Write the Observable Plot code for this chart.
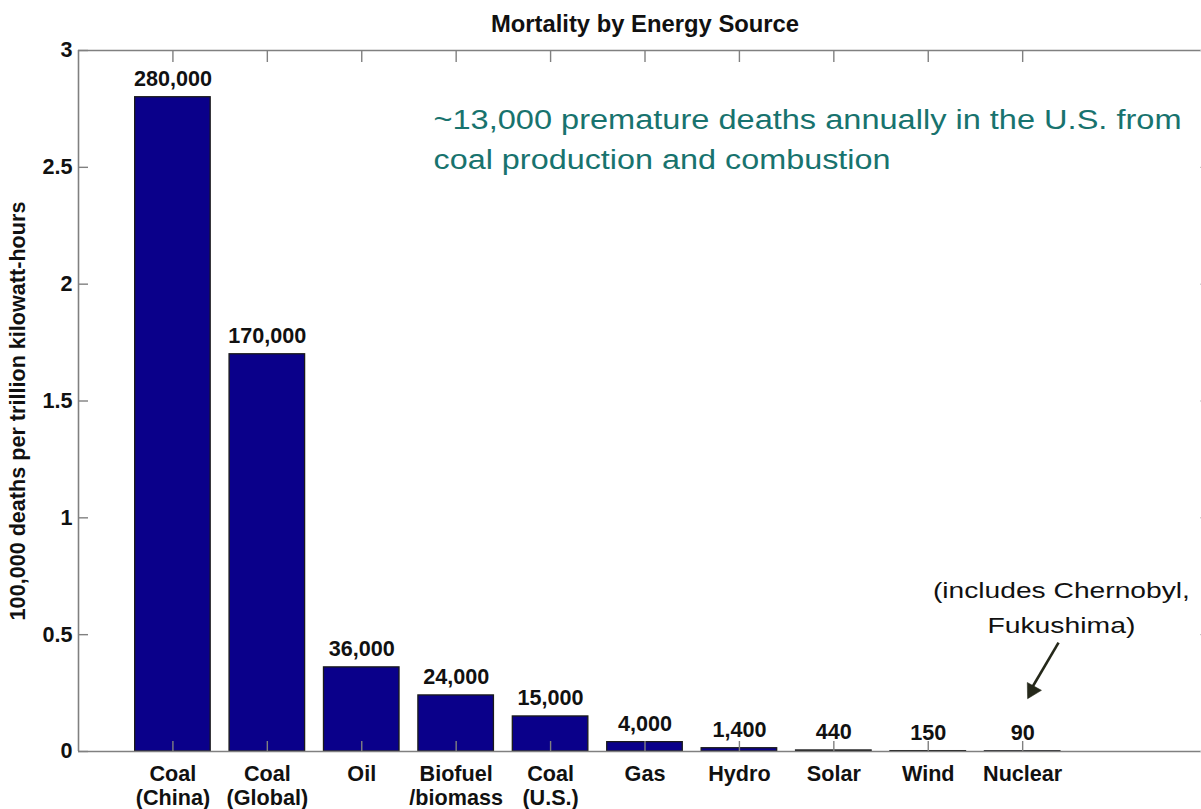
<!DOCTYPE html>
<html><head><meta charset="utf-8">
<script src="https://cdn.jsdelivr.net/npm/d3@7"></script>
<script src="https://cdn.jsdelivr.net/npm/@observablehq/plot@0.6"></script>
<style>
html,body{margin:0;padding:0;background:#fff;overflow:hidden}
#chart svg{display:block;overflow:hidden}
</style></head><body><div id="chart"></div>
<script>
const categories = ["Coal\n(China)", "Coal\n(Global)", "Oil", "Biofuel\n/biomass", "Coal\n(U.S.)", "Gas", "Hydro", "Solar", "Wind", "Nuclear"];
const deathsPerTrillionKWh = [280000, 170000, 36000, 24000, 15000, 4000, 1400, 440, 150, 90];
const valueLabels = ["280,000", "170,000", "36,000", "24,000", "15,000", "4,000", "1,400", "440", "150", "90"];
const yTicks = [0, 0.5, 1, 1.5, 2, 2.5, 3];
const yTickLabels = ["0", "0.5", "1", "1.5", "2", "2.5", "3"];
const title = "Mortality by Energy Source";
const yLabel = "100,000 deaths per trillion kilowatt-hours";
const coalNote = ["~13,000 premature deaths annually in the U.S. from", "coal production and combustion"];
const nuclearNote = ["(includes Chernobyl,", "Fukushima)"];

const data = categories.map((c, i) => ({cat: c, pos: i + 1, value: deathsPerTrillionKWh[i] / 100000, label: valueLabels[i]}));
const positions = data.map(d => d.pos);
const nuclear = data[data.length - 1];

const FONT = "'Liberation Sans', Arial, Helvetica, sans-serif";
const AX = "#808080";
const FS = 21.6;
const ARROW = "#25281a";

const chart = Plot.plot({
  width: 1201,
  height: 809,
  marginLeft: 78,
  marginRight: 0,
  marginTop: 50,
  marginBottom: 58,
  style: {fontFamily: FONT, background: "#fff"},
  x: {type: "linear", domain: [0, 12], range: [78, 1211], axis: null},
  y: {domain: [0, 3], axis: null},
  marks: [
    Plot.rect(data, {x1: d => d.pos - 0.4, x2: d => d.pos + 0.4, y1: 0, y2: "value", fill: "#0a008a", stroke: "#1a1a1a", strokeWidth: 1.3}),
    Plot.text(data, {x: "pos", y: "value", text: "label", dy: -11, lineAnchor: "bottom", fontWeight: "bold", fontSize: FS, fill: "#111"}),
    Plot.ruleX([0], {stroke: AX, strokeWidth: 1.6}),
    Plot.ruleY([0, 3], {stroke: AX, strokeWidth: 1.6}),
    Plot.axisY({anchor: "left", ticks: yTicks, tickSize: -10, tickPadding: 16, tickFormat: d => yTickLabels[yTicks.indexOf(d)], stroke: AX, strokeWidth: 1.4, fill: "#111", fontWeight: "bold", fontSize: FS, label: null}),
    Plot.axisY({anchor: "right", ticks: yTicks, tickSize: -2, tickFormat: () => "", stroke: "#bbb", label: null}),
    Plot.axisX({anchor: "top", ticks: positions, tickSize: -11, tickFormat: () => "", stroke: AX, strokeWidth: 1.4, label: null}),
    Plot.axisX({anchor: "bottom", ticks: positions, tickSize: -10, tickPadding: 22, tickFormat: p => categories[p - 1], lineHeight: 1.13, stroke: AX, strokeWidth: 1.4, fill: "#111", fontWeight: "bold", fontSize: FS, label: null}),
    Plot.text([title], {frameAnchor: "top", dx: 5, dy: -26, lineAnchor: "middle", fontWeight: "bold", fontSize: 23.8, fill: "#111"}),
    Plot.text([yLabel], {frameAnchor: "left", textAnchor: "middle", rotate: -90, dx: -60, dy: 10, lineAnchor: "middle", fontWeight: "bold", fontSize: FS, fill: "#111"}),
    Plot.text([coalNote[0]], {x: 3.76, y: 2.665, textAnchor: "start", lineAnchor: "bottom", fontSize: 27, fill: "#18736e"}),
    Plot.text([coalNote[1]], {x: 3.76, y: 2.494, textAnchor: "start", lineAnchor: "bottom", fontSize: 27, fill: "#18736e"}),
    Plot.text([nuclearNote[0]], {x: nuclear.pos + 0.41, y: 0.659, textAnchor: "middle", lineAnchor: "bottom", fontSize: 22.5, fill: "#111"}),
    Plot.text([nuclearNote[1]], {x: nuclear.pos + 0.41, y: 0.505, textAnchor: "middle", lineAnchor: "bottom", fontSize: 22.5, fill: "#111"}),
    Plot.link([nuclear], {x1: d => d.pos + 0.38, y1: 0.466, x2: d => d.pos + 0.08, y2: 0.26, stroke: ARROW, strokeWidth: 2.6}),
    Plot.dot([nuclear], {x: d => d.pos + 0.10, y: 0.261, symbol: "triangle", r: 6, rotate: 209, fill: ARROW, stroke: ARROW, strokeWidth: 0.5})
  ]
});

const widths = new Map([[coalNote[0], 748], [coalNote[1], 457], [nuclearNote[0], 257], [nuclearNote[1], 148]]);
d3.select(chart).selectAll("text").each(function() {
  const w = widths.get(this.textContent);
  if (w) { this.setAttribute("textLength", w); this.setAttribute("lengthAdjust", "spacingAndGlyphs"); }
});
document.getElementById("chart").appendChild(chart);
</script></body></html>
